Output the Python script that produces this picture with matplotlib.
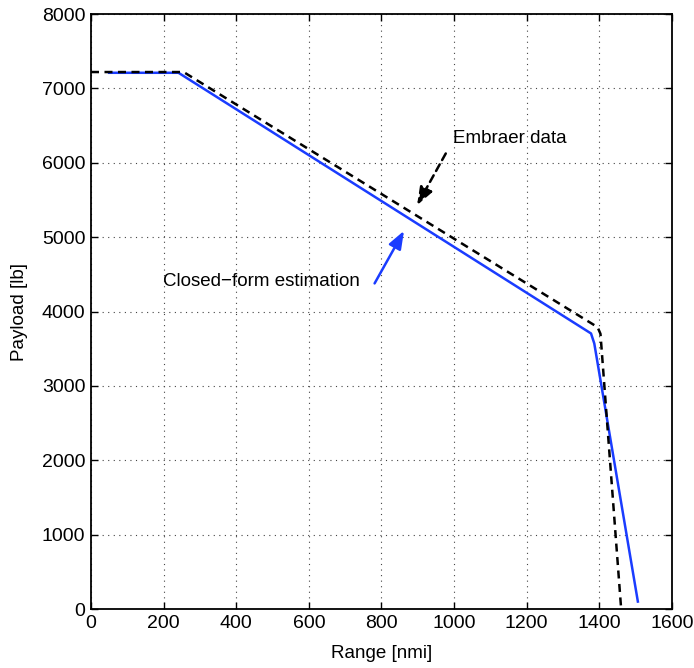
import matplotlib
matplotlib.use("Agg")
from matplotlib import pyplot as plt

# payload-range data
embraerRange = [0, 255, 1395, 1403, 1460]
embraerPayload = [7220, 7220, 3790, 3700, 0]
closedRange = [50, 241, 1377, 1386, 1506]
closedPayload = [7210, 7210, 3705, 3570, 100]

xTicks = [0, 200, 400, 600, 800, 1000, 1200, 1400, 1600]
yTicks = [0, 1000, 2000, 3000, 4000, 5000, 6000, 7000, 8000]

plt.rcParams['font.family'] = ['Liberation Sans', 'DejaVu Sans']
plt.rcParams['font.size'] = 13.5

fig = plt.figure(figsize=(6.94, 6.68), dpi=100)
ax = fig.add_axes([0.1311, 0.0883, 0.8372, 0.8907])

ax.plot(closedRange, closedPayload, color='#1a3cff', linewidth=1.8, zorder=3)
ax.plot(embraerRange, embraerPayload, color='black', linewidth=1.8,
        linestyle=(0, (3.2, 2.2)), zorder=4)

# annotations
ax.annotate('', xy=(898, 5430), xytext=(977, 6125),
            arrowprops=dict(arrowstyle='-|>,head_length=0.8,head_width=0.3',
                            color='black', linewidth=1.8, linestyle=(0, (3, 2)),
                            shrinkA=0, shrinkB=0))
ax.text(996, 6331, 'Embraer data', va='center', ha='left', fontsize=13.5)

ax.annotate('', xy=(862, 5085), xytext=(781, 4378),
            arrowprops=dict(arrowstyle='-|>,head_length=0.8,head_width=0.3',
                            color='#1a3cff', linewidth=1.8,
                            shrinkA=0, shrinkB=0))
ax.text(198, 4409, 'Closed\u2212form estimation', va='center', ha='left', fontsize=13.5)

ax.set_xlim(0, 1600)
ax.set_ylim(0, 8000)
ax.set_xticks(xTicks)
ax.set_yticks(yTicks)
ax.grid(True, linestyle=(0, (1, 4)), color='#444444', linewidth=0.8)
ax.tick_params(direction='in', top=True, right=True, length=5, width=1,
               labelsize=14, pad=4)
for s in ax.spines.values():
    s.set_linewidth(1.3)

ax.set_xlabel('Range [nmi]', fontsize=13.5, labelpad=10)
ax.set_ylabel('Payload [lb]', fontsize=13.5, labelpad=10)

fig.savefig('out.png', dpi=100)
